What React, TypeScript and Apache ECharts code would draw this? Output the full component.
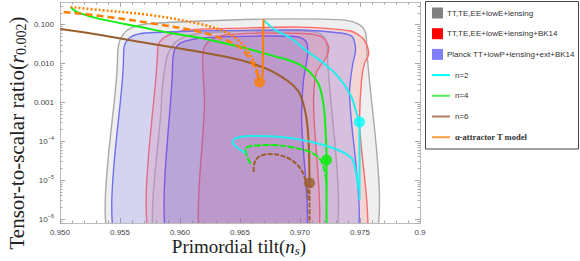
import React, { useEffect, useRef } from 'react';
import * as echarts from 'echarts';

// ---------- axis ranges & ticks ----------
const nsMin = 0.95;
const nsMax = 0.98;
const nsStep = 0.005;
const nsTickLabels = ['0.950', '0.955', '0.960', '0.965', '0.970', '0.975', '0.9'];
const rMin = 7.9e-7;
const rMax = 0.38;
const rMajorTicks = [1e-6, 1e-5, 1e-4, 1e-3, 1e-2, 1e-1];
const rTickLabels = ['10{s|−6}', '10{s|−5}', '10{s|−4}', '0.001', '0.010', '0.100'];

// ---------- confidence contours (ns, r) ----------
const grayOuter: [number, number][] = [
  [0.95479, 1e-7], [0.95479, 0.0122], [0.95488, 0.0297], [0.95521, 0.0537], [0.95588, 0.081],
  [0.95713, 0.103], [0.96171, 0.123], [0.96671, 0.138], [0.97171, 0.138], [0.97379, 0.13],
  [0.97488, 0.103], [0.97538, 0.0722], [0.97554, 0.04], [0.97554, 1e-7],
];
const grayInner: [number, number][] = [
  [0.95846, 1e-7], [0.95846, 0.00115], [0.95863, 0.00447], [0.95896, 0.0164], [0.95963, 0.0355],
  [0.96088, 0.0537], [0.96338, 0.0641], [0.97004, 0.068], [0.97154, 0.0604], [0.97213, 0.04],
  [0.97229, 0.0164], [0.97238, 1e-7],
];
const redOuter: [number, number][] = [
  [0.95813, 1e-7], [0.95813, 0.0221], [0.95829, 0.0355], [0.95888, 0.0506], [0.96046, 0.0722],
  [0.96504, 0.081], [0.97004, 0.086], [0.97421, 0.068], [0.97521, 0.045], [0.97563, 0.0264],
  [0.97571, 0.0164], [0.97538, 0.0102], [0.97513, 0.00374], [0.97496, 0.00035], [0.97488, 1e-7],
];
const redInner: [number, number][] = [
  [0.96213, 1e-7], [0.96204, 0.00115], [0.96188, 0.0122], [0.96204, 0.0264], [0.96254, 0.04],
  [0.96379, 0.0537], [0.96671, 0.0604], [0.97088, 0.057], [0.97196, 0.045], [0.97238, 0.0264],
  [0.97221, 0.0146], [0.97138, 0.006], [0.97113, 0.00115], [0.97104, 1e-7],
];
const blueOuter: [number, number][] = [
  [0.95529, 1e-7], [0.95529, 0.0122], [0.95538, 0.0297], [0.95588, 0.0477], [0.95713, 0.0604],
  [0.96171, 0.068], [0.97004, 0.0722], [0.97338, 0.0604], [0.97438, 0.0477], [0.97463, 0.0221],
  [0.97438, 0.0091], [0.97413, 0.00207], [0.97404, 1e-7],
];
const blueInner: [number, number][] = [
  [0.95938, 1e-7], [0.95938, 0.00807], [0.95954, 0.0221], [0.96004, 0.0334], [0.96171, 0.045],
  [0.96671, 0.0506], [0.96988, 0.0477], [0.97054, 0.0355], [0.97063, 0.0164], [0.97029, 0.00374],
  [0.97013, 0.000472], [0.96996, 1e-7],
];

// ---------- model predictions (ns, r) ----------
const cyanMain: [number, number][] = [
  [0.96696, 0.13], [0.96796, 0.0722], [0.96921, 0.045], [0.97046, 0.0221], [0.97196, 0.0102],
  [0.97321, 0.00447], [0.97421, 0.00154], [0.97471, 0.000531], [0.97496, 0.000261],
  [0.97496, 5.94e-5], [0.97496, 3.08e-6],
];
const cyanHook: [number, number][] = [
  [0.96546, 4.97e-5], [0.96471, 7.1e-5], [0.96438, 9.5e-5], [0.96471, 0.000121], [0.96588, 0.000136],
  [0.96838, 0.000128], [0.97196, 7.98e-5], [0.97421, 3.93e-5], [0.97463, 1.82e-5], [0.97488, 5.57e-6],
];
const greenMain: [number, number][] = [
  [0.95088, 0.282], [0.95129, 0.222], [0.95213, 0.175], [0.95338, 0.138], [0.95671, 0.086],
  [0.95921, 0.0604], [0.96171, 0.045], [0.96504, 0.0264], [0.96754, 0.0164], [0.97004, 0.0091],
  [0.97146, 0.00332], [0.97196, 0.000853], [0.97213, 0.000194], [0.97221, 3.29e-5], [0.97221, 7.9e-7],
];
const greenHook: [number, number][] = [
  [0.96588, 2.59e-5], [0.96554, 4.42e-5], [0.96546, 6.3e-5], [0.96588, 7.53e-5], [0.96754, 7.98e-5],
  [0.96963, 6.69e-5], [0.97104, 4.97e-5], [0.97171, 3.29e-5], [0.97204, 1.82e-5], [0.97221, 7.48e-6],
];
const brownMain: [number, number][] = [
  [0.95004, 0.0766], [0.95338, 0.0537], [0.95671, 0.0355], [0.96171, 0.0196], [0.96504, 0.0122],
  [0.96779, 0.006], [0.96979, 0.00207], [0.97046, 0.000531], [0.97071, 0.000107], [0.97079, 8.42e-6],
];
const brownTail: [number, number][] = [[0.97079, 8.42e-6], [0.97079, 7.9e-7]];
const brownHook: [number, number][] = [
  [0.96613, 1.62e-5], [0.96621, 2.75e-5], [0.96654, 3.93e-5], [0.96738, 4.69e-5], [0.96879, 3.93e-5],
  [0.96988, 2.3e-5], [0.97046, 1.01e-5], [0.97071, 3.08e-6],
];
const orangeDotted: [number, number][] = [
  [0.95088, 0.282], [0.95338, 0.236], [0.95754, 0.175], [0.96171, 0.103], [0.96379, 0.0641],
  [0.96504, 0.0355], [0.96588, 0.0164], [0.96638, 0.00762], [0.96663, 0.00374],
];
const orangeDashed: [number, number][] = [
  [0.9503, 0.21], [0.95338, 0.166], [0.95754, 0.109], [0.96171, 0.0641], [0.96379, 0.04],
  [0.96504, 0.0249], [0.96588, 0.0122], [0.96638, 0.006], [0.96663, 0.00374],
];
const orangeVertical: [number, number][] = [[0.96696, 0.138], [0.96688, 0.0045]];

const orangeDot: [number, number] = [0.96663, 0.00332];
const cyanDot: [number, number] = [0.97496, 0.000312];
const greenDot: [number, number] = [0.97221, 3.29e-5];
const brownDot: [number, number] = [0.97079, 8.42e-6];

// ---------- legend ----------
const legendLabels = [
  'TT,TE,EE+lowE+lensing',
  'TT,TE,EE+lowE+lensing+BK14',
  'Planck TT+lowP+lensing+ext+BK14',
  'n=2',
  'n=4',
  'n=6',
  'α-attractor T model',
];
const legendKinds = ['box', 'box', 'box', 'line', 'line', 'line', 'line'];
const legendColors = ['#808080', '#ff0000', '#8080ff', '#00ffff', '#55ee55', '#b08060', '#ffa040'];

const C_CYAN = '#20eef0';
const C_GREEN = '#11ee11';
const C_BROWN = '#9a5f2e';
const C_ORANGE = '#ff8000';

const serif = "'Liberation Serif', 'DejaVu Serif', serif";
const sans = "'Liberation Sans', Arial, sans-serif";
const frameColor = '#bdbdbd';
const tickColor = '#a8a8a8';

const toXY = (p: [number, number]) => [p[0], Math.log10(p[1])];

function polySeries(pts: [number, number][], fill: string, stroke: string) {
  const data = pts.map(toXY);
  return {
    type: 'custom',
    clip: true,
    silent: true,
    data,
    encode: { x: 0, y: 1 },
    renderItem: (params: any, api: any) => {
      if (params.dataIndex !== 0) return null;
      const points = data.map((d) => api.coord(d));
      return {
        type: 'polygon',
        shape: { points, smooth: 0.25 },
        style: { fill, stroke, lineWidth: 1.4 },
      };
    },
  };
}

function lineSeries(pts: [number, number][], color: string, type: any = 'solid', width = 2) {
  return {
    type: 'line',
    data: pts.map(toXY),
    showSymbol: false,
    smooth: 0.35,
    silent: true,
    lineStyle: { color, width, type },
  };
}

function dotSeries(p: [number, number], color: string) {
  return {
    type: 'scatter',
    data: [toXY(p)],
    symbolSize: 11,
    silent: true,
    itemStyle: { color },
    z: 5,
  };
}

export default function App() {
  const ref = useRef<HTMLDivElement>(null);
  useEffect(() => {
    if (!ref.current) return;
    const chart = echarts.init(ref.current, undefined, { renderer: 'svg' });
    const yMajor = rMajorTicks.map((v) => Math.log10(v));
    const yMinor: number[] = [];
    for (let k = -7; k <= 0; k++) {
      for (let m = 2; m <= 9; m++) {
        const v = Math.log10(m * Math.pow(10, k));
        if (v > Math.log10(rMin) && v < Math.log10(rMax)) yMinor.push(v);
      }
    }
    const yMin = Math.log10(rMin);
    const yMax = Math.log10(rMax);
    const yLabelFmt = (v: number) => {
      const i = yMajor.findIndex((t) => Math.abs(t - v) < 1e-6);
      return i >= 0 ? rTickLabels[i] : '';
    };
    const xLabelFmt = (v: number) => {
      const i = Math.round((v - nsMin) / nsStep);
      return nsTickLabels[i] ?? '';
    };
    const yAxisBase = {
      type: 'value',
      min: yMin,
      max: yMax,
      splitLine: { show: false },
    };
    const xAxisBase = {
      type: 'value',
      min: nsMin,
      max: nsMax,
      interval: nsStep,
      splitLine: { show: false },
      axisLine: { show: true, onZero: false, lineStyle: { color: frameColor, width: 1 } },
      axisTick: { show: true, inside: true, length: 5, lineStyle: { color: tickColor } },
      minorTick: { show: true, splitNumber: 5, length: 2.5, lineStyle: { color: tickColor } },
    };
    const legendGraphics: any[] = [
      {
        type: 'rect',
        shape: { x: 425.5, y: 1.5, width: 153, height: 147.5 },
        style: { fill: '#fff', stroke: '#444', lineWidth: 1 },
        z: 100,
      },
    ];
    legendLabels.forEach((label, i) => {
      const cy = 13 + i * 20.7;
      if (legendKinds[i] === 'box') {
        legendGraphics.push({
          type: 'rect',
          shape: { x: 432, y: cy - 5.5, width: 11, height: 11 },
          style: { fill: legendColors[i] },
          z: 101,
        });
      } else {
        legendGraphics.push({
          type: 'line',
          shape: { x1: 432, y1: cy, x2: 450, y2: cy },
          style: { stroke: legendColors[i], lineWidth: 2 },
          z: 101,
        });
      }
      const isSerif = i === 6;
      legendGraphics.push({
        type: 'text',
        x: legendKinds[i] === 'box' ? 447 : 455,
        y: cy,
        style: {
          text: label,
          fill: '#333',
          font: isSerif ? `bold 8.5px ${serif}` : `8px ${sans}`,
          align: 'left',
          verticalAlign: 'middle',
        },
        z: 101,
      });
    });

    chart.setOption({
      animation: false,
      grid: { left: 60, right: 160, top: 2, bottom: 38, containLabel: false },
      xAxis: [
        {
          ...xAxisBase,
          position: 'bottom',
          axisLabel: {
            show: true,
            formatter: xLabelFmt,
            color: '#444',
            fontSize: 8,
            fontFamily: sans,
            margin: 5,
            showMaxLabel: true,
          },
        },
        { ...xAxisBase, position: 'top', axisLabel: { show: false } },
      ],
      yAxis: [
        {
          ...yAxisBase,
          position: 'left',
          axisLine: { show: true, onZero: false, lineStyle: { color: frameColor, width: 1 } },
          axisTick: { show: true, inside: true, length: 5, customValues: yMajor, lineStyle: { color: tickColor } },
          axisLabel: {
            show: true,
            customValues: yMajor,
            formatter: yLabelFmt,
            color: '#444',
            fontSize: 8,
            lineHeight: 12,
            fontFamily: sans,
            margin: 6,
            rich: { s: { fontSize: 5.5, lineHeight: 6, verticalAlign: 'top', color: '#444', fontFamily: sans } },
          },
        },
        {
          ...yAxisBase,
          position: 'left',
          axisLine: { show: false },
          axisTick: { show: true, inside: true, length: 2.5, customValues: yMinor, lineStyle: { color: tickColor } },
          axisLabel: { show: false },
        },
        {
          ...yAxisBase,
          position: 'right',
          axisLine: { show: true, onZero: false, lineStyle: { color: frameColor, width: 1 } },
          axisTick: { show: true, inside: true, length: 5, customValues: yMajor, lineStyle: { color: tickColor } },
          axisLabel: { show: false },
        },
        {
          ...yAxisBase,
          position: 'right',
          axisLine: { show: false },
          axisTick: { show: true, inside: true, length: 2.5, customValues: yMinor, lineStyle: { color: tickColor } },
          axisLabel: { show: false },
        },
      ],
      series: [
        polySeries(grayOuter, 'rgba(128,128,128,0.13)', '#a9a9a9'),
        polySeries(grayInner, 'rgba(128,128,128,0.08)', '#b3b3b3'),
        polySeries(redOuter, 'rgba(255,100,100,0.19)', '#ff6a6a'),
        polySeries(redInner, 'rgba(255,100,100,0.19)', '#ff6060'),
        polySeries(blueOuter, 'rgba(120,120,250,0.22)', '#6f6ff0'),
        polySeries(blueInner, 'rgba(110,90,220,0.22)', '#7a5ae8'),
        lineSeries(brownMain, C_BROWN),
        lineSeries(brownTail, C_BROWN, [5, 1.5]),
        lineSeries(brownHook, C_BROWN, [5, 1.5]),
        lineSeries(greenMain, C_GREEN),
        lineSeries(greenHook, C_GREEN, [7, 1.5]),
        lineSeries(cyanMain, C_CYAN),
        lineSeries(cyanHook, C_CYAN),
        lineSeries(orangeDotted, C_ORANGE, [2, 2], 2.5),
        lineSeries(orangeDashed, C_ORANGE, [7, 4], 2.5),
        lineSeries(orangeVertical, C_ORANGE),
        dotSeries(orangeDot, C_ORANGE),
        dotSeries(cyanDot, '#00ffff'),
        dotSeries(greenDot, '#00ee00'),
        dotSeries(brownDot, C_BROWN),
      ],
      graphic: [
        {
          type: 'text',
          x: 17,
          y: 133,
          rotation: Math.PI / 2,
          style: {
            text: '{a|Tensor-to-scalar ratio(}{i|r}{s|0.002}{a|)}',
            align: 'center',
            verticalAlign: 'middle',
            fill: '#222',
            rich: {
              a: { fontSize: 21, fontFamily: serif, fill: '#222' },
              i: { fontSize: 21, fontFamily: serif, fontStyle: 'italic', fill: '#222' },
              s: { fontSize: 14, fontFamily: serif, fill: '#222', padding: [9, 0, 0, 0] },
            },
          },
        },
        {
          type: 'text',
          x: 239,
          y: 246,
          style: {
            text: '{a|Primordial tilt(}{i|n}{s|s}{a|)}',
            align: 'center',
            verticalAlign: 'middle',
            fill: '#222',
            rich: {
              a: { fontSize: 19, fontFamily: serif, fill: '#222' },
              i: { fontSize: 19, fontFamily: serif, fontStyle: 'italic', fill: '#222' },
              s: { fontSize: 13, fontFamily: serif, fontStyle: 'italic', fill: '#222', padding: [8, 0, 0, 0] },
            },
          },
        },
        ...legendGraphics,
      ],
    });
    return () => chart.dispose();
  }, []);
  return (
    <div
      ref={ref}
      style={{ position: 'absolute', left: 0, top: 0, width: 580, height: 261, background: '#fff' }}
    />
  );
}
